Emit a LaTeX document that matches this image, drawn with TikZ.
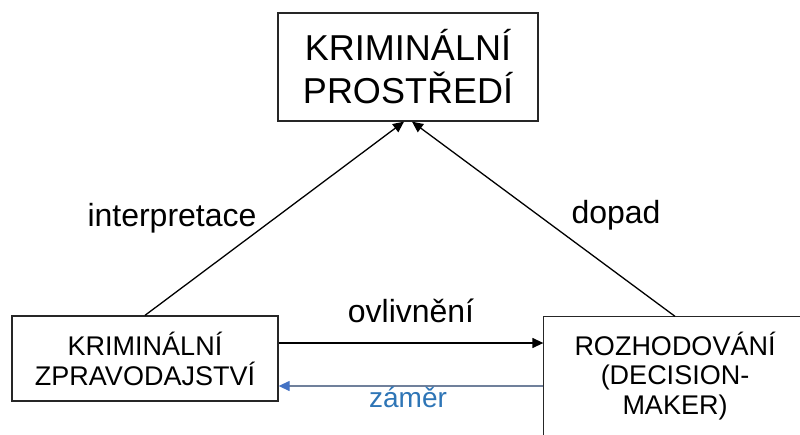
\documentclass[tikz,border=0pt]{standalone}
\usepackage{fontspec}
\setmainfont{Liberation Sans}
\usetikzlibrary{arrows.meta}
\definecolor{zamerblue}{RGB}{46,117,182}
\definecolor{zamerline}{RGB}{112,128,155}
\definecolor{tipblue}{RGB}{68,114,196}
\tikzset{
  box/.style = {draw=black!85, line width=1.3pt, align=center, inner sep=0pt},
}

\begin{document}
\begin{tikzpicture}[
    x=1pt, y=1pt,
    arr/.style = {line width=1.3pt, -{Triangle[length=11pt,width=10pt]}},
    lbl/.style = {anchor=base, font=\fontsize{32}{36}\selectfont},
    ]
    \useasboundingbox (0,0) rectangle (800,434);
    \begin{scope}
    \clip (0,0) rectangle (800,434);
    \node[box, minimum width=260pt, minimum height=108pt,
      font=\fontsize{36}{43}\selectfont] (prostredi) at (408,367)
      {KRIMINÁLNÍ\\PROSTŘEDÍ};
    \node[box, minimum width=266pt, minimum height=85pt,
      font=\fontsize{27}{30}\selectfont] (zprav) at (145,75.5)
      {KRIMINÁLNÍ\\ZPRAVODAJSTVÍ};
    \node[box, draw=none, minimum width=262pt, minimum height=118pt,
      font=\fontsize{27}{29.5}\selectfont] (rozhod) at (675,58)
      {ROZHODOVÁNÍ\\(DECISION-\\MAKER)};
    % box presahuje okraj obrazku
    \draw[draw=black!85, line width=1.3pt]
      ([yshift=-20pt]rozhod.south west) rectangle ([xshift=30pt]rozhod.north east);
    \end{scope}
    % sipky
    \draw[arr] (zprav.north) -- ([xshift=-4pt]prostredi.south);
    \draw[arr] (rozhod.north) -- ([xshift=4pt]prostredi.south);
    \draw[arr] ([yshift=15.5pt]zprav.east)
      -- ([yshift=15.5pt]zprav.east -| rozhod.west);
    \draw[line width=1.3pt, draw=zamerline,
      -{Triangle[length=11pt,width=10pt,color=tipblue]}]
      ([yshift=-27.5pt]zprav.east -| rozhod.west)
      -- ([yshift=-27.5pt]zprav.east);
    % popisky
    \node[lbl] (interp) at (172,207) {interpretace};
    \node[lbl] (dopad) at (616,210) {dopad};
    \node[lbl] (ovliv) at (411,112) {ovlivnění};
    \node[lbl, text=zamerblue, font=\fontsize{28}{32}\selectfont]
      (zamer) at (408,27) {záměr};
\end{tikzpicture}
\end{document}
